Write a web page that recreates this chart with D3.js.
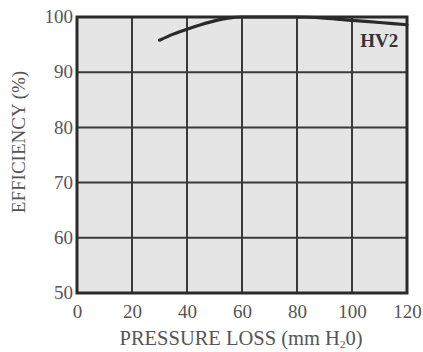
<!DOCTYPE html>
<html><head><meta charset="utf-8">
<script src="https://cdn.jsdelivr.net/npm/d3@7"></script>
<style>body{margin:0;background:#fff}</style>
</head><body>
<svg id="c" width="423" height="352"></svg>
<script>
const pressureLoss = [30, 35, 40, 45, 50, 55, 60, 70, 80, 90, 100, 110, 120];
const efficiency = [95.8, 96.9, 97.8, 98.6, 99.3, 99.8, 100, 100, 100, 99.8, 99.4, 99.0, 98.6];
const xTicks = [0, 20, 40, 60, 80, 100, 120];
const yTicks = [50, 60, 70, 80, 90, 100];
const seriesName = "HV2";

const svg = d3.select("#c");
const m = {l: 77, r: 16, t: 17, b: 59};
const W = 423 - m.l - m.r, H = 352 - m.t - m.b;
const x = d3.scaleLinear().domain([0, 120]).range([m.l, m.l + W]);
const y = d3.scaleLinear().domain([50, 100]).range([m.t + H, m.t]);
const font = "'Liberation Serif', 'DejaVu Serif', serif";

svg.append("rect").attr("x", m.l).attr("y", m.t).attr("width", W).attr("height", H)
  .attr("fill", "#e5e5e5");

// grid
svg.append("g").selectAll("line").data(xTicks.slice(1, -1)).join("line")
  .attr("x1", d => x(d)).attr("x2", d => x(d)).attr("y1", m.t).attr("y2", m.t + H)
  .attr("stroke", "#3a3a3a").attr("stroke-width", 2);
svg.append("g").selectAll("line").data(yTicks.slice(1, -1)).join("line")
  .attr("y1", d => y(d)).attr("y2", d => y(d)).attr("x1", m.l).attr("x2", m.l + W)
  .attr("stroke", "#3a3a3a").attr("stroke-width", 2);

// border
svg.append("rect").attr("x", m.l).attr("y", m.t).attr("width", W).attr("height", H)
  .attr("fill", "none").attr("stroke", "#2a2a2a").attr("stroke-width", 3);

// axes via d3 axis
const xAxis = svg.append("g").attr("transform", `translate(0,${m.t + H})`)
  .call(d3.axisBottom(x).tickValues(xTicks).tickSize(0).tickPadding(11));
const yAxis = svg.append("g").attr("transform", `translate(${m.l},0)`)
  .call(d3.axisLeft(y).tickValues(yTicks).tickSize(0).tickPadding(4));
[xAxis, yAxis].forEach(g => {
  g.select(".domain").remove();
  g.selectAll("text").attr("font-family", font).attr("font-size", 19).attr("fill", "#555");
});
yAxis.selectAll("text").attr("dy", "0.3em");
xAxis.selectAll("text").attr("dy", "0.72em");

// curve
const line = d3.line().x((d, i) => x(pressureLoss[i])).y(d => y(d)).curve(d3.curveMonotoneX);
svg.append("path").datum(efficiency).attr("d", line)
  .attr("fill", "none").attr("stroke", "#2a2a2a").attr("stroke-width", 3.2)
  .attr("stroke-linecap", "round");

// label
svg.append("text").attr("x", x(116.8)).attr("y", y(94.5)).attr("text-anchor", "end")
  .attr("font-family", font).attr("font-weight", "bold").attr("font-size", 19)
  .attr("fill", "#333").text(seriesName);

// axis titles
const xt = svg.append("text").attr("x", 241).attr("y", 345).attr("text-anchor", "middle")
  .attr("font-family", font).attr("font-size", 20.5).attr("fill", "#555");
xt.append("tspan").text("PRESSURE LOSS (mm H");
xt.append("tspan").attr("font-size", 11).attr("dy", 3).text("2");
xt.append("tspan").attr("dy", -3).text("0)");

svg.append("text").attr("transform", "translate(25,142) rotate(-90)").attr("text-anchor", "middle")
  .attr("font-family", font).attr("font-size", 19).attr("fill", "#555")
  .text("EFFICIENCY (%)");
</script>
</body></html>
